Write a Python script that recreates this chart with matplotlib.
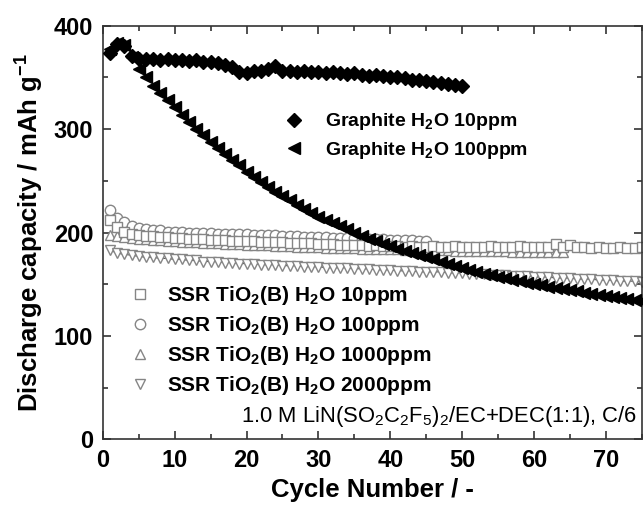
import matplotlib
matplotlib.use('Agg')
import matplotlib.pyplot as plt
from matplotlib.ticker import MultipleLocator

plt.rcParams['font.family'] = ['Liberation Sans', 'DejaVu Sans']
plt.rcParams['mathtext.fontset'] = 'custom'
plt.rcParams['mathtext.rm'] = 'Liberation Sans'
plt.rcParams['mathtext.bf'] = 'Liberation Sans:bold'

# Graphite, H2O 10ppm (cycles 1-50)
g10 = [374, 382, 380, 371, 368, 368, 368, 367, 368, 367,
       367, 366, 367, 365, 365, 364, 362, 360, 355, 354,
       356, 356, 358, 361, 356, 356, 355, 356, 355, 355,
       354, 355, 354, 353, 354, 352, 351, 352, 351, 350,
       350, 349, 348, 348, 347, 346, 345, 344, 343, 342]

# Graphite, H2O 100ppm (cycles 1-75)
g100 = [378, 383, 381, 370, 358, 350, 342, 335, 328, 321,
        314, 307, 300, 294, 288, 282, 276, 270, 265, 259,
        254, 249, 244, 239, 235, 231, 227, 223, 219, 215,
        212, 209, 206, 203, 200, 197, 194, 192, 189, 187,
        184, 182, 180, 178, 176, 174, 172, 170, 168, 166,
        164, 162, 160, 159, 157, 156, 154, 153, 151, 150,
        149, 147, 146, 145, 144, 143, 142, 141, 140, 139,
        138, 137, 136, 135, 134]

# SSR TiO2(B), H2O 10ppm (cycles 1-75)
s10 = [212, 205, 201, 199, 198, 197, 197, 196, 196, 195,
       195, 194, 194, 194, 193, 193, 193, 192, 192, 192,
       192, 191, 191, 191, 191, 190, 190, 190, 190, 189,
       189, 189, 188, 188, 188, 188, 187, 188, 187, 187,
       187, 186, 187, 186, 186, 187, 186, 186, 187, 186,
       186, 186, 186, 187, 186, 186, 186, 187, 186, 186,
       186, 186, 189, 186, 188, 186, 186, 185, 186, 185,
       185, 186, 185, 185, 186]

# SSR TiO2(B), H2O 100ppm (cycles 1-45)
s100 = [222, 214, 210, 206, 204, 203, 202, 202, 201, 201,
        201, 200, 200, 200, 200, 199, 199, 199, 199, 199,
        198, 198, 198, 198, 197, 197, 197, 196, 196, 196,
        196, 195, 195, 195, 195, 194, 194, 194, 194, 193,
        193, 193, 193, 192, 192]

# SSR TiO2(B), H2O 1000ppm (cycles 1-64)
s1000 = [198, 197, 196, 195, 194, 194, 193, 193, 192, 192,
         191, 191, 191, 190, 190, 190, 189, 189, 189, 188,
         188, 188, 188, 187, 187, 187, 186, 186, 186, 186,
         185, 185, 185, 185, 185, 184, 184, 184, 184, 184,
         184, 183, 183, 183, 183, 183, 183, 183, 182, 182,
         182, 182, 182, 182, 182, 182, 181, 181, 181, 181,
         181, 181, 181, 181]

# SSR TiO2(B), H2O 2000ppm (cycles 1-75)
s2000 = [183, 180, 179, 178, 177, 176, 176, 175, 175, 174,
         174, 173, 173, 172, 172, 172, 171, 171, 170, 170,
         170, 169, 169, 169, 168, 168, 168, 167, 167, 167,
         166, 166, 166, 166, 165, 165, 165, 164, 164, 164,
         163, 163, 163, 162, 162, 162, 162, 161, 161, 161,
         160, 160, 160, 159, 159, 159, 158, 158, 158, 157,
         157, 157, 156, 156, 156, 155, 155, 155, 154, 154,
         154, 153, 153, 153, 152]

ssr_labels = [r'SSR TiO$_\mathbf{2}$(B) H$_\mathbf{2}$O 10ppm',
              r'SSR TiO$_\mathbf{2}$(B) H$_\mathbf{2}$O 100ppm',
              r'SSR TiO$_\mathbf{2}$(B) H$_\mathbf{2}$O 1000ppm',
              r'SSR TiO$_\mathbf{2}$(B) H$_\mathbf{2}$O 2000ppm']
gr_labels = [r'Graphite H$_\mathbf{2}$O 10ppm',
             r'Graphite H$_\mathbf{2}$O 100ppm']


def cyc(vals):
    return list(range(1, len(vals) + 1))


fig = plt.figure(figsize=(6.43, 5.05), dpi=100)
ax = fig.add_axes([0.160, 0.130, 0.838, 0.819])

grey = '#858585'
ssr_style = dict(ls='none', ms=7.5, mfc='white', mec=grey, mew=1, zorder=2)

# thin line under the 2000ppm points
ax.plot(cyc(s2000), s2000, color='#555555', lw=0.8, zorder=1)
h_s2000, = ax.plot(cyc(s2000), s2000, marker='v', **ssr_style)
h_s1000, = ax.plot(cyc(s1000), s1000, marker='^', **ssr_style)
h_s100, = ax.plot(cyc(s100), s100, marker='o', **ssr_style)
h_s10, = ax.plot(cyc(s10), s10, marker='s', **dict(ssr_style, ms=7))
h_g100, = ax.plot(cyc(g100), g100, ls='none', marker='<', ms=8.5,
                  color='black', zorder=3)
h_g10, = ax.plot(cyc(g10), g10, ls='none', marker='D', ms=7.5,
                 color='black', zorder=3)

ax.set_xlim(0, 75)
ax.set_ylim(0, 400)
ax.xaxis.set_major_locator(MultipleLocator(10))
ax.xaxis.set_minor_locator(MultipleLocator(5))
ax.yaxis.set_major_locator(MultipleLocator(100))
ax.yaxis.set_minor_locator(MultipleLocator(50))
ax.tick_params(which='both', direction='in', top=True, right=True,
               labeltop=False, labelright=False, width=1.2, color='#333333')
ax.tick_params(which='major', length=6, labelsize=17, pad=7)
ax.tick_params(which='minor', length=3.5)
for lab in ax.get_xticklabels() + ax.get_yticklabels():
    lab.set_fontweight('bold')
for s in ax.spines.values():
    s.set_linewidth(1.2)
    s.set_color('#333333')

ax.set_xlabel('Cycle Number / -', fontsize=18.5, fontweight='bold', labelpad=4)
ax.set_ylabel(r'Discharge capacity / mAh g$^\mathbf{-1}$', fontsize=18.5,
              fontweight='bold', labelpad=6)

leg1 = ax.legend([h_g10, h_g100], gr_labels, loc='upper left',
                 bbox_to_anchor=(0.30, 0.835), frameon=False,
                 prop={'size': 14, 'weight': 'bold'}, handletextpad=1.0,
                 labelspacing=0.4, handlelength=1.2)
ax.add_artist(leg1)
ax.legend([h_s10, h_s100, h_s1000, h_s2000], ssr_labels, loc='upper left',
          bbox_to_anchor=(0.01, 0.42), frameon=False,
          prop={'size': 15, 'weight': 'bold'}, handletextpad=0.7,
          labelspacing=0.33, handlelength=1.2)

ax.text(0.992, 0.025, r'1.0 M LiN(SO$_2$C$_2$F$_5$)$_2$/EC+DEC(1:1), C/6',
        transform=ax.transAxes, ha='right', va='bottom', fontsize=15.8)

fig.savefig('out.png', dpi=100)
